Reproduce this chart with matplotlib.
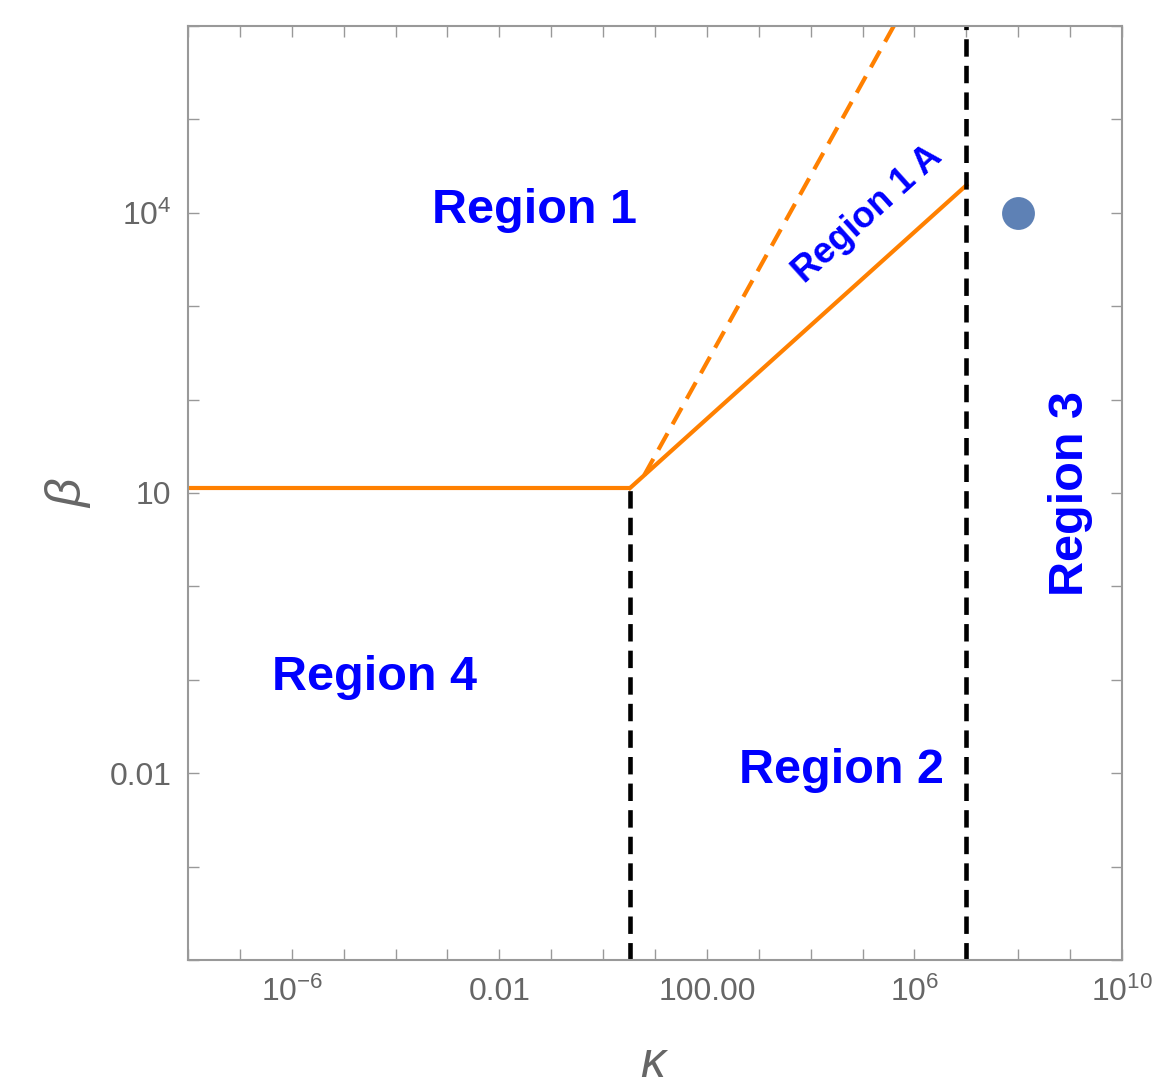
"""
Phase diagram in the (kappa, beta) plane: four regions split by an orange
boundary and two vertical dashed walls, log-log axes.
"""

import matplotlib
matplotlib.use("Agg")
import matplotlib.pyplot as plt
import numpy as np

plt.rcParams["font.family"] = ["Liberation Sans", "DejaVu Sans"]
plt.rcParams["mathtext.fontset"] = "custom"
plt.rcParams["mathtext.rm"] = "Liberation Sans"
plt.rcParams["mathtext.it"] = "Liberation Sans:italic"

ORANGE = "#FF8000"
BLUE   = "#0000FF"
DOT    = "#5E81B5"
GRAY   = "#666666"
FRAME  = "#999999"

# ── Data ─────────────────────────────────────────────────────────────────────
kappa_flat  = [1e-8, 3.3]
beta_flat   = [11.3, 11.3]

kappa_solid = [3.3, 1e7]
beta_solid  = [11.3, 1.97e4]

kappa_dash  = [6.2, 4e5]
beta_dash   = [15.5, 1e6]

kappa_wall_low  = 3.3
beta_wall_low   = [1e-4, 11.3]
kappa_wall_high = 1e7
beta_wall_high  = [1e-4, 1e6]

point_kappa = [1e8]
point_beta  = [1e4]

x_ticks = 10.0 ** np.arange(-8, 11)
x_tick_labels = {-6: r"$10^{-6}$", -2: "0.01", 2: "100.00",
                 6: r"$10^{6}$", 10: r"$10^{10}$"}
y_ticks = 10.0 ** np.arange(-4, 7)
y_tick_labels = {4: r"$10^{4}$", 1: "10", -2: "0.01"}

regions = [
    ("Region 1",   0.047, 1.07e4,  0),
    ("Region 4",   4e-5,  0.107,   0),
    ("Region 2",   4e4,   0.0107,  0),
    ("Region 3",   1e9,   10.0,   90),
]

# ── Figure ───────────────────────────────────────────────────────────────────
fig = plt.figure(figsize=(11.53, 10.89), dpi=100)
ax = fig.add_axes([188 / 1153, 1 - 960 / 1089, 934 / 1153, 934 / 1089])
ax.set_xscale("log")
ax.set_yscale("log")
ax.set_xlim(1e-8, 1e10)
ax.set_ylim(1e-4, 1e6)

ax.plot(kappa_flat, beta_flat, color=ORANGE, lw=3, solid_capstyle="butt")
ax.plot(kappa_solid, beta_solid, color=ORANGE, lw=3)
ax.plot(kappa_dash, beta_dash, color=ORANGE, lw=3, linestyle=(0, (4.5, 2.5)))

ax.plot([kappa_wall_low] * 2, beta_wall_low, color="black", lw=3.3,
        linestyle=(0, (3.8, 2)))
ax.plot([kappa_wall_high] * 2, beta_wall_high, color="black", lw=3.3,
        linestyle=(0, (3.8, 2)))

ax.scatter(point_kappa, point_beta, s=560, color=DOT, zorder=5, linewidths=0)

for text, kx, by, rot in regions:
    ax.text(kx, by, text, color=BLUE, fontsize=35, fontweight="bold",
            ha="center", va="center", rotation=rot)
ax.text(1.26e5, 9.5e3, "Region 1 A", color=BLUE, fontsize=26,
        fontweight="bold", ha="center", va="center", rotation=42,
        rotation_mode="anchor")

# ── Axes styling ─────────────────────────────────────────────────────────────
ax.set_xticks(x_ticks)
ax.set_xticklabels([x_tick_labels.get(int(round(np.log10(t))), "")
                    for t in x_ticks])
ax.set_yticks(y_ticks)
ax.set_yticklabels([y_tick_labels.get(int(round(np.log10(t))), "")
                    for t in y_ticks])
ax.minorticks_off()
ax.tick_params(which="major", direction="in", length=8, width=1,
               color=FRAME, labelcolor=GRAY, labelsize=23,
               top=True, right=True, pad=12)
for sp in ax.spines.values():
    sp.set_color(FRAME)
    sp.set_linewidth(1.5)

ax.set_xlabel(r"$\kappa$", fontsize=36, color=GRAY, labelpad=24)
ax.set_ylabel(r"$\beta$", fontsize=36, color=GRAY, labelpad=12)

fig.savefig("out.png", dpi=100, facecolor="white")
